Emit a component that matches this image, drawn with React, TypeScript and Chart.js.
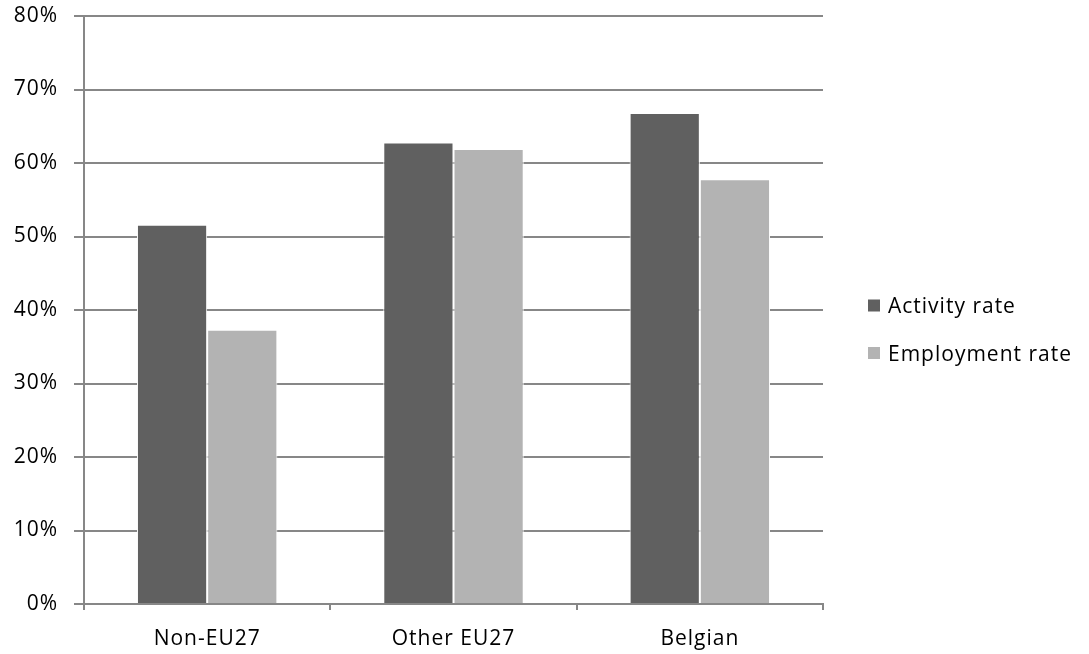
import React, { useEffect, useRef } from "react";
import { Chart, registerables } from "chart.js";

Chart.register(...registerables);

const categories = ["Non-EU27", "Other EU27", "Belgian"];
const activityRate = [51.6, 62.8, 66.8];
const employmentRate = [37.3, 61.9, 57.8];
const seriesNames = ["Activity rate", "Employment rate"];
const seriesColors = ["#606060", "#b3b3b3"];
const yTicks = [0, 10, 20, 30, 40, 50, 60, 70, 80];

const FONT = "'Open Sans', 'DejaVu Sans', sans-serif";
const FONT_SIZE = 21;
const AXIS_GREY = "#878787";

// Slightly loosened letter spacing for all canvas text
const spacingPlugin = {
  id: "letterSpacing",
  beforeUpdate(chart: any) {
    chart.ctx.letterSpacing = "1px";
  },
  beforeDraw(chart: any) {
    chart.ctx.letterSpacing = "1px";
  },
};

// Series key to the right of the plot, built from the chart's datasets
const sideLegendPlugin = {
  id: "sideLegend",
  afterDraw(chart: any) {
    const { ctx, chartArea } = chart;
    const box = 12;
    const rowGap = 47.5;
    const x = chartArea.right + 45;
    const firstRow = chart.height / 2 - 21.5;
    ctx.save();
    ctx.letterSpacing = "1px";
    ctx.font = `${FONT_SIZE}px ${FONT}`;
    ctx.textAlign = "left";
    ctx.textBaseline = "alphabetic";
    chart.data.datasets.forEach((ds: any, i: number) => {
      const cy = firstRow + i * rowGap;
      ctx.fillStyle = ds.backgroundColor;
      ctx.fillRect(x, cy - box / 2, box, box);
      ctx.fillStyle = "#000";
      ctx.fillText(ds.label, x + box + 8, cy + 7.8);
    });
    ctx.restore();
  },
};

export default function App() {
  const canvasRef = useRef<HTMLCanvasElement | null>(null);

  useEffect(() => {
    if (!canvasRef.current) return;
    const chart = new Chart(canvasRef.current, {
      type: "bar",
      data: {
        labels: categories,
        datasets: [
          {
            label: seriesNames[0],
            data: activityRate,
            backgroundColor: seriesColors[0],
            borderColor: "#ffffff",
            borderWidth: 1,
          },
          {
            label: seriesNames[1],
            data: employmentRate,
            backgroundColor: seriesColors[1],
            borderColor: "#ffffff",
            borderWidth: 1,
          },
        ],
      },
      plugins: [spacingPlugin, sideLegendPlugin],
      options: {
        animation: false,
        responsive: false,
        datasets: {
          bar: { categoryPercentage: 0.57, barPercentage: 1 },
        },
        layout: { padding: { top: 16, left: 0, right: 266, bottom: 0 } },
        plugins: {
          tooltip: { enabled: false },
          legend: { display: false },
        },
        scales: {
          x: {
            grid: {
              offset: true,
              drawOnChartArea: false,
              color: AXIS_GREY,
              tickLength: 6,
              lineWidth: 2,
            },
            border: { color: AXIS_GREY, width: 2 },
            ticks: {
              font: { family: FONT, size: FONT_SIZE },
              color: "#000",
              padding: 16,
            },
            afterFit: (s: any) => {
              s.height = 50;
              s.paddingLeft = 0;
              s.paddingRight = 0;
            },
          },
          y: {
            min: 0,
            max: 80,
            afterBuildTicks: (axis: any) => {
              axis.ticks = yTicks.map((v) => ({ value: v }));
            },
            grid: { color: AXIS_GREY, lineWidth: 2, tickLength: 10 },
            border: { color: AXIS_GREY, width: 2 },
            ticks: {
              font: { family: FONT, size: FONT_SIZE },
              color: "#000",
              padding: 16,
              callback: (v: any) => `${v}%`,
            },
            afterFit: (s: any) => {
              s.width = 84;
              s.paddingTop = 0;
              s.paddingBottom = 0;
            },
          },
        },
      },
    });
    return () => chart.destroy();
  }, []);

  return (
    <div style={{ position: "fixed", left: 0, top: 0, width: 1089, height: 654, background: "#fff" }}>
      <canvas ref={canvasRef} width={1089} height={654} style={{ width: 1089, height: 654 }} />
    </div>
  );
}
